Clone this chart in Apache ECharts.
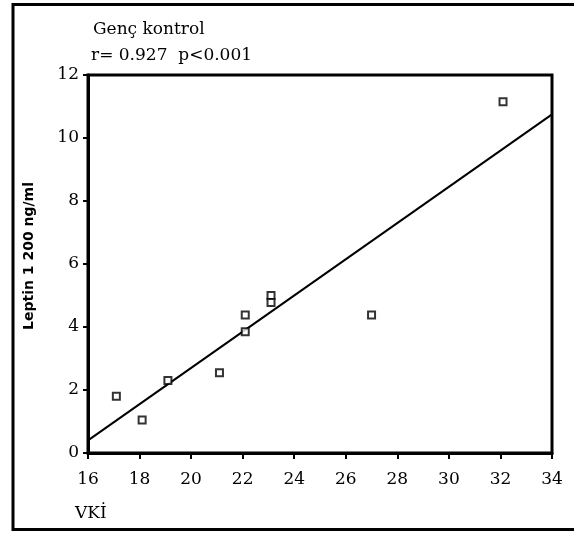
<!DOCTYPE html>
<html><head><meta charset="utf-8">
<script src="https://cdn.jsdelivr.net/npm/echarts@6/dist/echarts.min.js"></script>
<style>html,body{margin:0;padding:0;background:#fff}#c{width:574px;height:533px}</style>
</head><body><div id="c"></div>
<script>
const vki = [17.1, 18.1, 19.1, 21.1, 22.1, 22.1, 23.1, 23.1, 27.0, 32.1];
const leptin = [1.8, 1.05, 2.3, 2.55, 4.38, 3.85, 5.0, 4.78, 4.38, 11.15];
const fitX = [16, 34];
const fitY = [0.4, 10.75];
const xTicks = [16, 18, 20, 22, 24, 26, 28, 30, 32, 34];
const yTicks = [0, 2, 4, 6, 8, 10, 12];

const chart = echarts.init(document.getElementById('c'));
const serif = '"DejaVu Serif", "Liberation Serif", serif';
chart.setOption({
  animation: false,
  backgroundColor: '#fff',
  grid: {left: 88, right: 22, top: 75, bottom: 80, show: true, borderColor: '#000', borderWidth: 3, backgroundColor: 'transparent'},
  xAxis: {
    type: 'value', min: 16, max: 34, interval: 2,
    axisLine: {show: true, lineStyle: {color: '#000', width: 3}},
    axisTick: {show: true, length: 6, lineStyle: {color: '#000', width: 2}},
    axisLabel: {color: '#000', fontFamily: serif, fontSize: 17, margin: 18,
      formatter: v => xTicks.includes(v) ? String(v) : ''},
    splitLine: {show: false}
  },
  yAxis: {
    type: 'value', min: 0, max: 12, interval: 2,
    axisLine: {show: true, lineStyle: {color: '#000', width: 3}},
    axisTick: {show: true, length: 5, lineStyle: {color: '#000', width: 2}},
    axisLabel: {color: '#000', fontFamily: serif, fontSize: 17, margin: 9,
      formatter: v => yTicks.includes(v) ? String(v) : ''},
    splitLine: {show: false}
  },
  graphic: [
    {type: 'rect', shape: {x: 13, y: 4.5, width: 620, height: 525}, style: {fill: 'none', stroke: '#000', lineWidth: 3}, silent: true},
    {type: 'text', left: 93, top: 21, style: {text: 'Genç kontrol', font: '17px ' + serif, fill: '#000'}},
    {type: 'text', left: 91, top: 47, style: {text: 'r= 0.927  p<0.001', font: '17px ' + serif, fill: '#000'}},
    {type: 'text', left: 75, top: 505, style: {text: 'VKİ', font: '17px ' + serif, fill: '#000'}},
    {type: 'text', x: 29, y: 256, rotation: Math.PI / 2,
      style: {text: 'Leptin 1 200 ng/ml', font: 'bold 14px "DejaVu Sans", sans-serif', fill: '#000', align: 'center', verticalAlign: 'middle'}}
  ],
  series: [
    {type: 'line', data: fitX.map((x, i) => [x, fitY[i]]), symbol: 'none',
      lineStyle: {color: '#000', width: 2}, z: 2},
    {type: 'scatter', data: vki.map((x, i) => [x, leptin[i]]), symbol: 'rect', symbolSize: 7,
      itemStyle: {color: '#fff', borderColor: '#000', borderWidth: 2}, z: 3}
  ]
});
</script></body></html>
